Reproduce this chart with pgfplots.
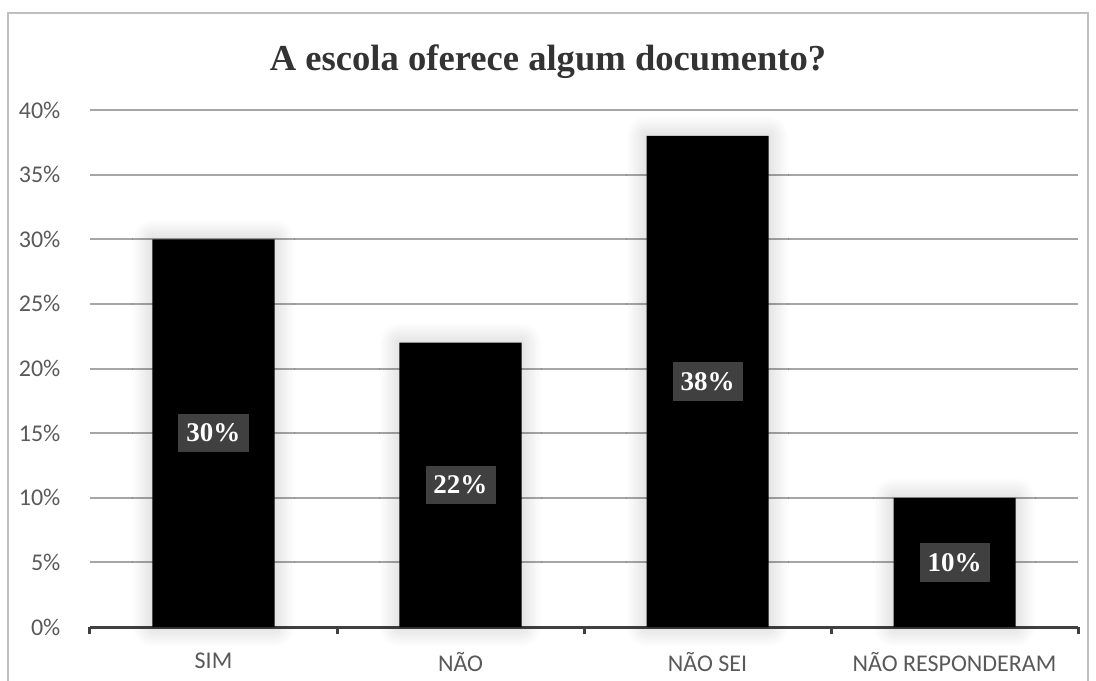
\documentclass[border=0pt]{standalone}
\usepackage{pgfplots}
\pgfplotsset{compat=1.18}
\usepackage{pgfplotstable}
\usepackage{fontspec}
\setmainfont{Liberation Serif}
\newfontfamily\calibri{Carlito}
\usetikzlibrary{shadows.blur}
\definecolor{txt}{HTML}{595959}
\definecolor{gridc}{HTML}{A6A6A6}
\definecolor{axisc}{HTML}{404040}
\definecolor{lbl}{HTML}{404040}
\definecolor{framec}{HTML}{BFBFBF}

\pgfplotstableread{
x y
0 30
1 22
2 38
3 10
}\datatable

\begin{document}
\begin{tikzpicture}
\useasboundingbox (0,0) rectangle (548pt,340pt);
\draw[framec, line width=1pt] (4pt,-2pt) rectangle (544pt,333.5pt);
\node[font=\bfseries\fontsize{18.3}{21}\selectfont, text=black!80] at (274pt,309pt) {A escola oferece algum documento?};
\begin{axis}[
  at={(45pt,26.5pt)}, anchor=south west,
  scale only axis, width=494pt, height=258.5pt,
  xmin=-0.5, xmax=3.5, ymin=0, ymax=40,
  axis x line*=bottom, axis y line*=left,
  y axis line style={draw=none},
  x axis line style={axisc, line width=1.5pt},
  xtick={0,1,2,3}, xticklabels={SIM, NÃO, NÃO SEI, NÃO RESPONDERAM},
  major x tick style={draw=none},
  minor xtick={-0.5,0.5,1.5,2.5,3.5},
  minor x tick style={axisc, line width=1.5pt},
  tick align=outside, minor tick length=3.5pt,
  ytick={0,5,...,40}, ytick style={draw=none},
  yticklabel={\pgfmathprintnumber{\tick}\%},
  ymajorgrids, grid style={gridc, line width=1pt},
  tick label style={font=\calibri\fontsize{12}{14}\selectfont, text=txt},
  yticklabel style={xshift=-7pt},
  xticklabel style={yshift=-5pt},
  /pgf/number format/assume math mode=true,
  clip=false,
]
\addplot[ybar, bar width=61pt, fill=black, draw=none,
  blur shadow={shadow xshift=0pt, shadow yshift=0pt, shadow blur radius=10pt, shadow opacity=22, shadow blur steps=12}]
  table[x=x,y=y]{\datatable};
\addplot[draw=none, mark=none,
  nodes near coords={\pgfmathprintnumber{\pgfplotspointmeta}\%},
  point meta=\thisrow{y},
  nodes near coords style={anchor=center, fill=lbl, text=white,
    font=\bfseries\fontsize{13.5}{16}\selectfont, inner xsep=4pt, inner ysep=5pt}]
  table[x=x, y expr=\thisrow{y}/2]{\datatable};
\end{axis}
\end{tikzpicture}
\end{document}
